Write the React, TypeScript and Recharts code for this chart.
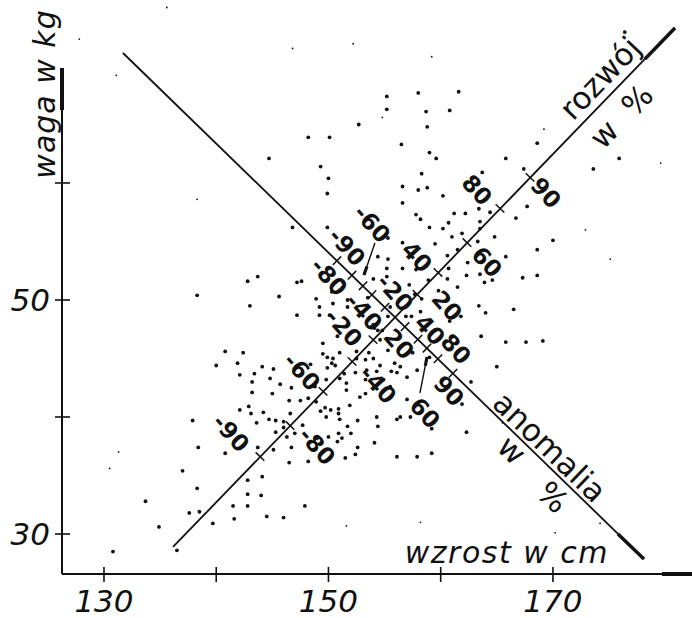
import React from 'react';
import { ScatterChart, Scatter, XAxis, YAxis, ReferenceLine, ReferenceDot } from 'recharts';

// ---------- data ----------
const heightsCm = [
  152.7, 148.2, 150.1, 144.7, 149.3, 150.0, 149.9, 146.8, 149.9, 155.2, 158.0, 161.6, 155.2, 158.7, 160.8, 158.8,
  156.5, 168.6, 159.0, 159.6, 165.8, 175.9, 167.4, 173.6, 163.7, 158.3, 156.6, 158.0, 158.8, 160.2, 176.4, 156.6,
  157.8, 158.2, 161.2, 162.2, 163.4, 164.4, 167.7, 166.7, 163.5, 160.7, 159.0, 160.2, 163.5, 161.9, 161.0, 164.8,
  163.3, 159.5, 170.0, 168.6, 165.8, 161.5, 160.6, 162.4, 160.7, 160.6, 162.3, 163.5, 163.9, 164.6, 161.5, 167.3,
  168.6,
  155.3, 156.6, 154.4, 155.3, 155.2, 156.6, 157.8, 158.9, 154.0, 155.2, 157.2, 157.7, 158.3, 159.8, 163.4, 166.5,
  164.0, 161.8, 160.8, 158.2, 156.9, 155.3, 154.1, 154.4, 163.6, 165.8, 167.6, 169.1, 165.0, 155.9, 156.4, 155.6,
  157.5, 155.3, 157.4, 159.0, 157.9, 157.0, 156.1, 155.5, 154.9, 154.6, 153.3, 152.8,
  142.8, 143.7, 147.2, 147.6, 138.3, 145.6, 143.0, 148.9, 149.2, 147.2, 149.2, 150.1, 151.3, 150.3, 151.7, 151.7,
  153.5, 155.5, 154.0, 154.8, 149.5, 140.8, 142.4, 149.5, 150.4, 150.8, 152.5, 140.0, 141.9, 144.1, 145.1, 148.4,
  149.9, 150.6, 142.1, 143.4, 144.8, 153.3, 153.4, 152.4, 149.9, 150.3,
  143.2, 145.7, 146.7, 143.2, 145.0, 146.5, 147.5, 148.2, 148.9, 142.9, 144.2, 142.1, 146.6, 144.7, 145.3, 146.0,
  143.6, 146.0, 147.7, 149.7, 150.2, 150.9, 149.8, 150.9, 151.9, 151.0, 151.7, 150.9, 150.0, 149.0, 151.2, 152.0,
  152.6, 154.3, 154.4, 156.1, 157.0, 153.3, 151.6, 151.6, 151.0, 151.4, 149.8, 148.8, 151.0, 152.5, 154.0, 154.3,
  154.6, 153.8, 153.6,
  143.1, 137.9, 145.3, 146.3, 147.0, 149.3, 150.8, 152.6, 152.4, 151.5, 148.2, 146.5, 146.7, 145.1, 143.7, 138.4,
  140.8, 137.0, 142.8, 144.1, 138.3, 142.8, 144.0, 133.7, 141.5, 142.8, 147.9, 137.6, 138.5, 144.5, 146.0, 141.6,
  139.7, 134.9, 130.8, 136.5, 162.3, 161.9, 159.2, 156.4, 157.3, 154.1, 156.1, 157.9, 159.2, 162.7, 150.4,
];
const weightsKg = [
  65.0, 63.9, 63.9, 62.1, 61.4, 60.4, 59.1, 56.2, 56.2, 67.4, 67.7, 67.8, 66.3, 66.1, 66.2, 64.8,
  63.3, 63.4, 62.6, 62.1, 62.1, 62.1, 61.2, 61.2, 60.9, 60.8, 59.7, 59.4, 59.6, 58.9, 72.9, 58.3,
  57.3, 56.9, 57.4, 57.4, 57.8, 57.5, 58.0, 57.0, 56.7, 56.6, 56.2, 56.1, 56.1, 55.7, 55.4, 55.4,
  55.0, 54.8, 55.1, 54.3, 53.7, 54.3, 53.8, 53.2, 52.7, 51.8, 52.1, 52.2, 51.5, 51.7, 51.1, 51.9,
  52.1,
  55.3, 54.9, 53.7, 53.5, 52.7, 52.7, 52.6, 51.7, 51.8, 52.0, 51.3, 50.5, 50.1, 50.8, 49.5, 49.2,
  48.9, 48.6, 48.2, 49.0, 48.6, 48.6, 47.6, 47.4, 46.9, 46.4, 46.4, 46.5, 44.3, 44.6, 44.3, 43.9,
  45.5, 45.7, 48.6, 45.1, 44.0, 43.4, 43.8, 42.6, 43.2, 44.4, 43.2, 41.7,
  51.6, 52.0, 51.5, 51.6, 50.4, 50.3, 49.5, 50.1, 49.4, 48.7, 48.7, 48.7, 51.5, 50.7, 49.4, 50.0,
  50.2, 49.4, 47.9, 47.4, 46.3, 45.6, 45.5, 45.4, 45.0, 46.9, 45.6, 44.4, 44.6, 44.3, 44.1, 44.5,
  44.2, 44.4, 43.6, 43.7, 43.3, 44.9, 44.0, 43.8, 45.1, 44.6,
  43.0, 42.8, 42.5, 42.1, 42.0, 41.4, 41.4, 41.6, 41.3, 40.9, 40.4, 40.6, 40.3, 39.8, 39.7, 39.6,
  39.5, 39.1, 39.3, 40.8, 40.6, 40.7, 40.0, 40.3, 41.0, 39.8, 39.2, 38.6, 38.3, 38.2, 38.2, 38.6,
  39.7, 40.0, 39.2, 39.8, 41.5, 42.0, 42.3, 42.9, 43.3, 43.7, 43.2, 42.6, 45.5, 45.0, 45.0, 43.9,
  46.6, 47.7, 45.5,
  40.3, 39.7, 38.7, 38.3, 38.6, 40.5, 37.9, 37.4, 36.8, 36.5, 36.2, 36.1, 37.4, 37.2, 37.4, 37.4,
  36.9, 35.4, 34.6, 34.9, 33.9, 33.4, 33.3, 32.8, 32.4, 32.4, 32.4, 31.8, 31.9, 31.5, 31.4, 31.3,
  30.9, 30.6, 28.5, 28.6, 38.7, 41.1, 39.0, 40.0, 40.0, 37.8, 36.6, 36.6, 36.9, 43.0, 49.7,
];
const faintHeightsCm = [152.2, 146.8, 131.1, 138.3, 127.8, 135.6, 169.2, 159.2, 154.8, 172.9, 175.1, 179.6, 130.5, 131.3, 158.2, 170.2, 174.2, 151.6, 165.5];
const faintWeightsKg = [71.9, 71.5, 69.2, 58.6, 72.3, 75.0, 64.6, 70.8, 65.6, 56.0, 53.5, 61.7, 35.6, 37.0, 31.0, 30.1, 30.9, 30.7, 39.5];

const xTicks = [130, 140, 150, 160, 170];
const xTickLabels = [130, 150, 170];
const yTicks = [30, 40, 50, 60];
const yTickLabels = [30, 50];

const xDomain = [126.26, 182.39];
const yDomain = [26.58, 75.64];
const yAxisTopKg = 69.83;
const yArrowFromKg = 66.24;
const xArrowFromCm = 179.71;

// "rozwój" line
const rozwojStart = { x: 136.15, y: 28.89 };
const rozwojEnd = { x: 180.87, y: 73.25 };
const rozwojArrowFrom = { x: 178.2, y: 70.6 };
const rozwojPct = ['-90', '-80', '-60', '-40', '-20', '20', '40', '60', '80', '90'];
const rozwojTickCm = [143.9, 146.58, 149.52, 152.1, 153.97, 157.89, 159.76, 162.34, 165.28, 167.96];
const rozwojTickKg = [36.62, 39.27, 42.19, 44.75, 46.61, 50.49, 52.35, 54.91, 57.83, 60.48];
const rozwojLabelCm = [141.31, 148.98, 147.64, 154.41, 151.38, 160.56, 157.89, 164.12, 163.23, 169.38];
const rozwojLabelKg = [38.63, 37.52, 43.85, 42.74, 47.61, 49.49, 53.68, 53.25, 59.4, 59.15];

// "anomalia" line
const anomStart = { x: 131.69, y: 71.11 };
const anomEnd = { x: 178.11, y: 27.86 };
const anomArrowFrom = { x: 175.79, y: 30.0 };
const anomPct = ['-90', '-80', '-60', '-40', '-20', '20', '40', '60', '80', '90'];
const anomTickCm = [150.76, 152.1, 153.08, 153.88, 155.04, 156.82, 157.98, 158.78, 159.76, 161.1];
const anomTickKg = [53.36, 52.12, 51.21, 50.46, 49.38, 47.72, 46.64, 45.89, 44.98, 43.74];
const anomLabelCm = [151.65, 150.05, 153.88, 153.16, 155.93, 156.28, 159.04, 158.6, 161.36, 160.74];
const anomLabelKg = [54.53, 51.97, 56.5, 48.97, 50.6, 46.24, 47.44, 40.34, 45.81, 42.22];

// pointer arrows for two labels
const pointerArrows = [
  { from: { x: 154.14, y: 54.87 }, head: { x: 153.43, y: 52.86 }, tip: { x: 153.16, y: 52.14 } },
  { from: { x: 158.15, y: 42.05 }, head: { x: 158.63, y: 44.38 }, tip: { x: 158.78, y: 45.13 } },
];

// fixed captions
const captions = [
  { text: 'rozwój', x: 174.19, y: 68.97, angle: -46 },
  { text: 'w', x: 174.55, y: 64.19, angle: -46 },
  { text: '%', x: 177.49, y: 67.09, angle: -46 },
  { text: 'anomalia', x: 169.73, y: 37.44, angle: 44 },
  { text: 'w', x: 166.35, y: 37.18, angle: 44 },
  { text: '%', x: 170.0, y: 33.16, angle: 44 },
];
const xTitle = { text: 'wzrost w cm', x: 165.9, y: 27.52 };
const yTitle = { text: 'waga w kg', x: 125.63, y: 67.61 };

const points = heightsCm.map((cm, i) => ({ cm, kg: weightsKg[i] }));
const faintPoints = faintHeightsCm.map((cm, i) => ({ cm, kg: faintWeightsKg[i] }));

const INK = '#111';
const FONT = '"DejaVu Sans", sans-serif';

const XTick = (props: any) => {
  const { x, y, payload } = props;
  const v = payload.value;
  return (
    <g>
      <line x1={x} x2={x} y1={y - 7} y2={y + 8} stroke={INK} strokeWidth={1.6} />
      {xTickLabels.includes(v) && (
        <text x={x} y={y + 38} textAnchor="middle" fontSize={31} fontStyle="italic" fontFamily={FONT} fill={INK}>
          {v}
        </text>
      )}
    </g>
  );
};

const YTick = (props: any) => {
  const { x, y, payload } = props;
  const v = payload.value;
  return (
    <g>
      <line x1={x - 7} x2={x + 8} y1={y} y2={y} stroke={INK} strokeWidth={1.6} />
      {yTickLabels.includes(v) && (
        <text x={x - 12} y={y + 11} textAnchor="end" fontSize={31} fontStyle="italic" fontFamily={FONT} fill={INK}>
          {v}
        </text>
      )}
    </g>
  );
};

const tickMark = (ux: number, uy: number) => (p: any) => (
  <line x1={p.cx - ux * 6} y1={p.cy - uy * 6} x2={p.cx + ux * 6} y2={p.cy + uy * 6} stroke={INK} strokeWidth={1.5} />
);

const rotatedText = (text: string, angle: number, size: number, weight: string | number) => (p: any) => (
  <text
    x={p.cx}
    y={p.cy}
    transform={`rotate(${angle} ${p.cx} ${p.cy})`}
    textAnchor="middle"
    dominantBaseline="central"
    fontSize={size}
    fontWeight={weight}
    fontFamily={FONT}
    fill={INK}
  >
    {text}
  </text>
);

export default function App() {
  return (
    <div style={{ position: 'absolute', left: 0, top: 0, background: '#fff' }}>
      <ScatterChart width={692} height={618} margin={{ top: 0, right: 0, bottom: 0, left: 0 }}>
        <XAxis
          type="number"
          dataKey="cm"
          domain={xDomain}
          ticks={xTicks}
          interval={0}
          allowDataOverflow
          height={44}
          tickSize={0}
          tickMargin={0}
          tickLine={false}
          axisLine={{ stroke: INK, strokeWidth: 2 }}
          tick={<XTick />}
        />
        <YAxis
          type="number"
          dataKey="kg"
          domain={yDomain}
          ticks={yTicks}
          interval={0}
          allowDataOverflow
          width={62}
          tickSize={0}
          tickMargin={0}
          tickLine={false}
          axisLine={false}
          tick={<YTick />}
        />
        {/* y axis line and arrows */}
        <ReferenceLine
          segment={[{ x: xDomain[0], y: yDomain[0] }, { x: xDomain[0], y: yAxisTopKg }]}
          stroke={INK}
          strokeWidth={2}
          ifOverflow="visible"
        />
        <ReferenceLine
          segment={[{ x: xDomain[0], y: yArrowFromKg }, { x: xDomain[0], y: yAxisTopKg }]}
          stroke={INK}
          strokeWidth={4}
          ifOverflow="visible"
        />
        <ReferenceLine
          segment={[{ x: xArrowFromCm, y: yDomain[0] }, { x: xDomain[1], y: yDomain[0] }]}
          stroke={INK}
          strokeWidth={4}
          ifOverflow="visible"
        />
        {/* diagonal scales */}
        <ReferenceLine segment={[rozwojStart, rozwojEnd]} stroke={INK} strokeWidth={1.8} ifOverflow="visible" />
        <ReferenceLine segment={[rozwojArrowFrom, rozwojEnd]} stroke={INK} strokeWidth={3.5} ifOverflow="visible" />
        <ReferenceLine segment={[anomStart, anomEnd]} stroke={INK} strokeWidth={1.8} ifOverflow="visible" />
        <ReferenceLine segment={[anomArrowFrom, anomEnd]} stroke={INK} strokeWidth={3.5} ifOverflow="visible" />
        {pointerArrows.map((a, i) => (
          <ReferenceLine key={`pa${i}`} segment={[a.from, a.tip]} stroke={INK} strokeWidth={1.4} ifOverflow="visible" />
        ))}
        {pointerArrows.map((a, i) => (
          <ReferenceLine key={`ph${i}`} segment={[a.head, a.tip]} stroke={INK} strokeWidth={3.2} ifOverflow="visible" />
        ))}
        {rozwojTickCm.map((cm, i) => (
          <ReferenceDot key={`rt${i}`} x={cm} y={rozwojTickKg[i]} ifOverflow="visible" shape={tickMark(0.719, 0.695)} />
        ))}
        {anomTickCm.map((cm, i) => (
          <ReferenceDot key={`at${i}`} x={cm} y={anomTickKg[i]} ifOverflow="visible" shape={tickMark(0.697, -0.717)} />
        ))}
        {rozwojLabelCm.map((cm, i) => (
          <ReferenceDot key={`rl${i}`} x={cm} y={rozwojLabelKg[i]} ifOverflow="visible" shape={rotatedText(rozwojPct[i], 48, 23, 'bold')} />
        ))}
        {anomLabelCm.map((cm, i) => (
          <ReferenceDot key={`al${i}`} x={cm} y={anomLabelKg[i]} ifOverflow="visible" shape={rotatedText(anomPct[i], 48, 23, 'bold')} />
        ))}
        {captions.map((c, i) => (
          <ReferenceDot key={`cap${i}`} x={c.x} y={c.y} ifOverflow="visible" shape={rotatedText(c.text, c.angle, 31, 'normal')} />
        ))}
        <ReferenceDot
          x={xTitle.x}
          y={xTitle.y}
          ifOverflow="visible"
          shape={(p: any) => (
            <text x={p.cx} y={p.cy} textAnchor="middle" fontSize={30} fontStyle="italic" letterSpacing={1.5} fontFamily={FONT} fill={INK}>
              {xTitle.text}
            </text>
          )}
        />
        <ReferenceDot
          x={yTitle.x}
          y={yTitle.y}
          ifOverflow="visible"
          shape={(p: any) => (
            <text
              x={p.cx}
              y={p.cy}
              transform={`rotate(-90 ${p.cx} ${p.cy})`}
              textAnchor="middle"
              fontSize={30}
              fontStyle="italic"
              letterSpacing={1}
              fontFamily={FONT}
              fill={INK}
            >
              {yTitle.text}
            </text>
          )}
        />
        <Scatter
          data={points}
          isAnimationActive={false}
          shape={(p: any) => <circle cx={p.cx} cy={p.cy} r={1.9} fill={INK} />}
        />
        <Scatter
          data={faintPoints}
          isAnimationActive={false}
          shape={(p: any) => <circle cx={p.cx} cy={p.cy} r={0.9} fill={INK} />}
        />
      </ScatterChart>
    </div>
  );
}
